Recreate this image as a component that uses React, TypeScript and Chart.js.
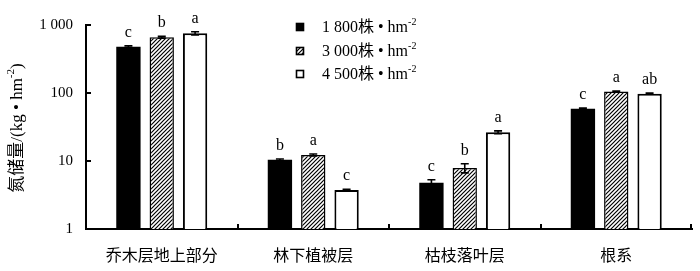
import React, { useEffect, useRef } from "react";
import { Chart, registerables } from "chart.js";

Chart.register(...registerables);

const categories = ["乔木层地上部分", "林下植被层", "枯枝落叶层", "根系"];
const seriesNames = ["1 800株 • hm", "3 000株 • hm", "4 500株 • hm"];
const values1800 = [479, 10.4, 4.8, 58.8];
const values3000 = [660, 12.3, 7.9, 104.8];
const values4500 = [755, 3.75, 26.5, 97.7];
const errors1800 = [15, 0.3, 0.5, 1.5];
const errors3000 = [20, 0.4, 1.2, 2];
const errors4500 = [40, 0.1, 1.2, 2];
const letters1800 = ["c", "b", "c", "c"];
const letters3000 = ["b", "a", "b", "a"];
const letters4500 = ["a", "c", "a", "ab"];
const yTicks = [1, 10, 100, 1000];
const yTickLabels = ["1", "10", "100", "1 000"];
const yTitle = "氮储量/(kg • hm";

const SERIF = "'Liberation Serif', 'Times New Roman', 'Noto Sans CJK SC', serif";
const CJK = "'Noto Sans CJK SC', sans-serif";

function makeHatch(): CanvasPattern | string {
  const c = document.createElement("canvas");
  c.width = 4;
  c.height = 4;
  const g = c.getContext("2d");
  if (!g) return "#888";
  g.fillStyle = "#fff";
  g.fillRect(0, 0, 4, 4);
  g.strokeStyle = "#000";
  g.lineWidth = 1.2;
  g.beginPath();
  g.moveTo(0, 4);
  g.lineTo(4, 0);
  g.moveTo(-1, 1);
  g.lineTo(1, -1);
  g.moveTo(3, 5);
  g.lineTo(5, 3);
  g.stroke();
  const p = g.createPattern(c, "repeat");
  return p || "#888";
}

function drawSup(ctx: CanvasRenderingContext2D, x: number, y: number, base: string, sup: string, size: number) {
  ctx.font = `${size}px ${SERIF}`;
  const wb = ctx.measureText(base).width;
  ctx.textAlign = "left";
  ctx.textBaseline = "middle";
  ctx.fillText(base, x, y);
  ctx.font = `${Math.round(size * 0.65)}px ${SERIF}`;
  ctx.fillText(sup, x + wb, y - size * 0.38);
}

export default function App() {
  const ref = useRef<HTMLCanvasElement>(null);
  useEffect(() => {
    const canvas = ref.current;
    if (!canvas) return;
    const hatch = makeHatch();
    const fills = ["#000", hatch, "#fff"];
    const errs = [errors1800, errors3000, errors4500];
    const lets = [letters1800, letters3000, letters4500];

    const extras = {
      id: "extras",
      afterDatasetsDraw(chart: any) {
        const ctx: CanvasRenderingContext2D = chart.ctx;
        const y = chart.scales.y;
        const area = chart.chartArea;
        ctx.save();
        // error bars and letters
        chart.data.datasets.forEach((ds: any, di: number) => {
          const meta = chart.getDatasetMeta(di);
          meta.data.forEach((bar: any, i: number) => {
            const v = ds.data[i];
            const e = errs[di][i];
            const cx = bar.x;
            const yt = y.getPixelForValue(v + e);
            const yb = y.getPixelForValue(v - e);
            ctx.strokeStyle = "#000";
            ctx.lineWidth = 1.6;
            ctx.beginPath();
            ctx.moveTo(cx, yt);
            ctx.lineTo(cx, yb);
            ctx.moveTo(cx - 4, yt);
            ctx.lineTo(cx + 4, yt);
            ctx.moveTo(cx - 4, yb);
            ctx.lineTo(cx + 4, yb);
            ctx.stroke();
            ctx.fillStyle = "#000";
            ctx.font = `16px ${SERIF}`;
            ctx.textAlign = "center";
            ctx.textBaseline = "alphabetic";
            ctx.fillText(lets[di][i], cx, yt - 9);
          });
        });
        // inner ticks on y axis
        ctx.strokeStyle = "#000";
        ctx.lineWidth = 2;
        ctx.beginPath();
        yTicks.forEach((t) => {
          if (t === 1) return;
          const py = y.getPixelForValue(t);
          ctx.moveTo(area.left, py);
          ctx.lineTo(area.left + 5, py);
        });
        // inner ticks on x axis at category boundaries
        const step = (area.right - area.left) / categories.length;
        for (let i = 1; i <= categories.length; i++) {
          const px = Math.round(area.left + step * i) - (i === categories.length ? 1 : 0);
          ctx.moveTo(px, area.bottom);
          ctx.lineTo(px, area.bottom - 5);
        }
        ctx.stroke();
        // legend
        const lx = 296;
        const lys = [27, 51, 74];
        seriesNames.forEach((name, i) => {
          const by = lys[i];
          ctx.fillStyle = fills[i] as any;
          ctx.fillRect(lx, by - 4, 8, 8);
          ctx.strokeStyle = "#000";
          ctx.lineWidth = 1.6;
          ctx.strokeRect(lx + 0.5, by - 3.5, 7, 7);
          ctx.fillStyle = "#000";
          drawSup(ctx, 322, by + 1, name, "-2", 16);
        });
        // y title
        ctx.save();
        ctx.translate(18, 128);
        ctx.rotate(-Math.PI / 2);
        ctx.fillStyle = "#000";
        ctx.font = `17px ${SERIF}`;
        const wb = ctx.measureText(yTitle).width;
        ctx.font = `11px ${SERIF}`;
        const ws = ctx.measureText("-2").width;
        ctx.font = `17px ${SERIF}`;
        const wc = ctx.measureText(")").width;
        const total = wb + ws + wc;
        const sx = -total / 2;
        ctx.textAlign = "left";
        ctx.textBaseline = "middle";
        ctx.fillText(yTitle, sx, 0);
        ctx.font = `11px ${SERIF}`;
        ctx.fillText("-2", sx + wb, -7);
        ctx.font = `17px ${SERIF}`;
        ctx.fillText(")", sx + wb + ws, 0);
        ctx.restore();
        ctx.restore();
      },
    };

    const chart = new Chart(canvas, {
      type: "bar",
      data: {
        labels: categories,
        datasets: [
          { label: seriesNames[0], data: values1800, backgroundColor: "#000", borderColor: "#000", borderWidth: 0 },
          { label: seriesNames[1], data: values3000, backgroundColor: hatch as any, borderColor: "#000", borderWidth: 1.5 },
          { label: seriesNames[2], data: values4500, backgroundColor: "#fff", borderColor: "#000", borderWidth: 2 },
        ],
      },
      options: {
        animation: false,
        responsive: true,
        maintainAspectRatio: false,
        datasets: { bar: { categoryPercentage: 0.66, barPercentage: 0.73 } },
        layout: { padding: { left: 0, right: 8, top: 25, bottom: 0 } },
        plugins: { legend: { display: false }, tooltip: { enabled: false } },
        scales: {
          x: {
            grid: { display: false, drawTicks: false },
            border: { display: true, color: "#000", width: 2 },
            ticks: { color: "#000", font: { family: CJK, size: 16 }, padding: 16 },
            afterFit(s: any) {
              s.height = 42;
            },
          },
          y: {
            type: "logarithmic",
            min: 1,
            max: 1000,
            grid: { display: false, drawTicks: false },
            border: { display: true, color: "#000", width: 2 },
            afterBuildTicks(s: any) {
              s.ticks = yTicks.map((v) => ({ value: v }));
            },
            ticks: {
              color: "#000",
              font: { family: SERIF, size: 15 },
              padding: 13,
              callback: (v: any) => {
                const idx = yTicks.indexOf(Number(v));
                return idx >= 0 ? yTickLabels[idx] : "";
              },
            },
            afterFit(s: any) {
              s.width = 86;
            },
          },
        },
      },
      plugins: [extras],
    });
    return () => chart.destroy();
  }, []);
  return (
    <div style={{ position: "fixed", left: 0, top: 0, width: 700, height: 271, background: "#fff" }}>
      <canvas ref={ref} />
    </div>
  );
}
